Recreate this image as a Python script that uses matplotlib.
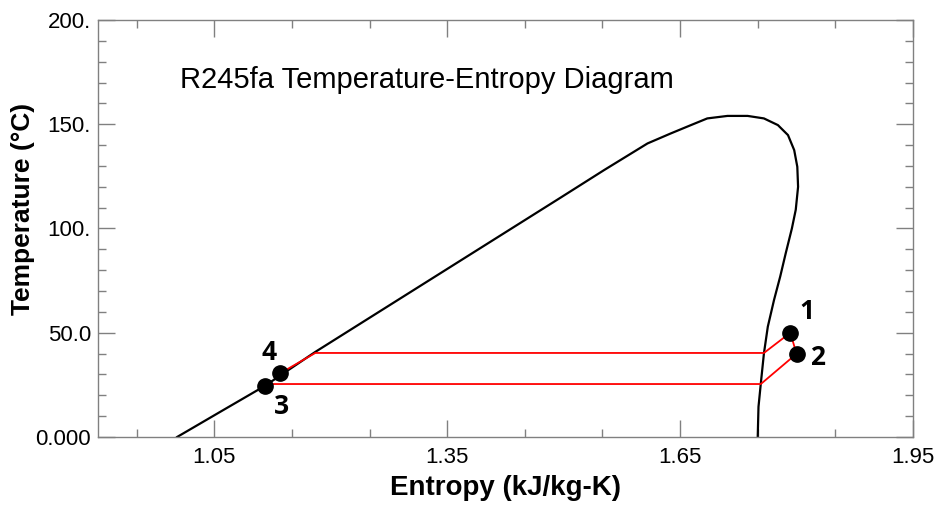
import matplotlib.pyplot as plt
from matplotlib.ticker import FixedLocator

# saturation dome of R245fa
dome_s = [1.002, 1.060, 1.115, 1.180, 1.496, 1.552, 1.608, 1.638, 1.664, 1.685,
          1.711, 1.737, 1.758, 1.776, 1.789, 1.797, 1.801, 1.802, 1.799, 1.794,
          1.786, 1.779, 1.771, 1.763, 1.758, 1.754, 1.751, 1.750]
dome_T = [0.0, 12.6, 24.5, 40.8, 114.8, 128.0, 140.8, 145.6, 149.6, 152.8,
          154.0, 154.0, 152.8, 149.6, 144.8, 137.6, 129.6, 120.0, 109.0, 100.0,
          88.0, 77.0, 65.7, 52.9, 40.1, 25.7, 14.5, 0.0]

# cycle path 4 -> evaporator -> 1 -> 2 -> condenser -> 3
cycle_s = [1.135, 1.180, 1.758, 1.792, 1.800, 1.754, 1.115]
cycle_T = [30.6, 40.3, 40.3, 50.0, 39.9, 25.4, 25.4]

# state points
state_names = ['1', '2', '3', '4']
state_s = [1.792, 1.800, 1.115, 1.135]
state_T = [50.0, 39.9, 24.5, 30.6]
label_off = [(12, 15), (15, -3), (12, -15), (-8, 15)]

x_major = [1.05, 1.35, 1.65, 1.95]
x_minor = [0.95, 1.15, 1.25, 1.45, 1.55, 1.75, 1.85]
y_major = [0, 50, 100, 150, 200]
y_labels = ['0.000', '50.0', '100.', '150.', '200.']

plt.rcParams['font.family'] = ['Liberation Sans', 'DejaVu Sans']

fig = plt.figure(figsize=(9.41, 5.08), dpi=100)
ax = fig.add_axes([0.1041, 0.1398, 0.8661, 0.8208])

ax.plot(dome_s, dome_T, color='black', lw=1.6, zorder=2)
ax.plot(cycle_s, cycle_T, color='#ff0000', lw=1.3, zorder=3)
ax.plot(state_s, state_T, 'o', color='black', ms=11, zorder=4)

for name, s, T, off in zip(state_names, state_s, state_T, label_off):
    ax.annotate(name, (s, T), xytext=off, textcoords='offset points',
                ha='center', va='center', fontsize=19, fontweight='bold',
                family=['Open Sans', 'DejaVu Sans'])

ax.set_xlim(0.90, 1.95)
ax.set_ylim(0, 200)

ax.xaxis.set_major_locator(FixedLocator(x_major))
ax.xaxis.set_minor_locator(FixedLocator(x_minor))
ax.set_xticklabels(['1.05', '1.35', '1.65', '1.95'])
ax.yaxis.set_major_locator(FixedLocator(y_major))
ax.yaxis.set_minor_locator(FixedLocator([v for v in range(10, 200, 10) if v % 50]))
ax.set_yticklabels(y_labels)

ax.tick_params(which='both', direction='in', top=True, right=True, color='#808080',
               labelsize=16, width=1.0)
ax.tick_params(which='major', length=12)
ax.tick_params(which='minor', length=6)
ax.tick_params(axis='x', pad=7)
ax.tick_params(axis='y', pad=5)
for sp in ax.spines.values():
    sp.set_color('#808080')
    sp.set_linewidth(1.0)

ax.set_xlabel('Entropy (kJ/kg-K)', fontsize=20, fontweight='bold', labelpad=5)
ax.set_ylabel('Temperature (°C)', fontsize=19, fontweight='bold')
ax.yaxis.set_label_coords(-0.077, 0.547)

ax.text(0.1006, 0.855, 'R245fa Temperature-Entropy Diagram', transform=ax.transAxes,
        fontsize=21, va='center', ha='left')

fig.savefig('out.png', dpi=100)
